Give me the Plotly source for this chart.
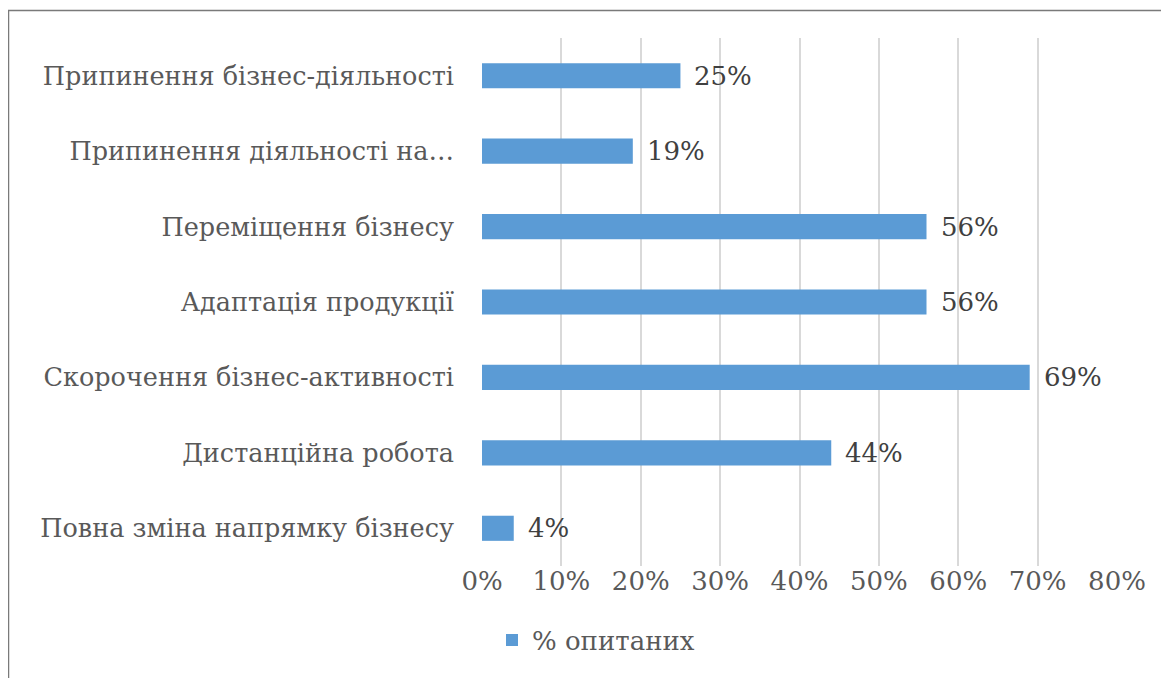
import plotly.graph_objects as go

categories = [
    "Припинення бізнес-діяльності",
    "Припинення діяльності на…",
    "Переміщення бізнесу",
    "Адаптація продукції",
    "Скорочення бізнес-активності",
    "Дистанційна робота",
    "Повна зміна напрямку бізнесу",
]
values = [25, 19, 56, 56, 69, 44, 4]
series_name = "% опитаних"
x_ticks = [0, 10, 20, 30, 40, 50, 60, 70, 80]
x_tick_labels = [f"{t}%" for t in x_ticks]

OFF = 8  # default page body margin
W, H = 1169 - OFF, 678 - OFF
L = 482 - OFF
R = 1169 - 1117
T = 38 - OFF
B = 678 - 566
pw = W - L - R
ph = H - T - B

def px_x(p):
    return (p - OFF - L) / pw

def px_y(p):
    return (H - B - (p - OFF)) / ph

FONT = "DejaVu Serif"
FS = 26
FS_CAT = 25.5

fig = go.Figure()
fig.add_trace(go.Bar(
    x=values, y=categories, orientation="h",
    name=series_name,
    marker=dict(color="#5B9BD5", line=dict(width=0)),
    hoverinfo="skip",
))

for c, v in zip(categories, values):
    fig.add_annotation(
        x=v, y=c, xref="x", yref="y", text=f"{v}%",
        showarrow=False, xanchor="left", yanchor="middle", xshift=12,
        font=dict(family=FONT, size=FS, color="#404040"),
    )

fig.add_shape(
    type="rect", xref="paper", yref="paper",
    x0=px_x(8.5), x1=px_x(1190), y0=px_y(700), y1=px_y(10.5),
    line=dict(color="#7a7a7a", width=1.5), fillcolor="rgba(0,0,0,0)", layer="below",
)

fig.update_layout(
    width=W, height=H,
    margin=dict(l=L, r=R, t=T, b=B, pad=0),
    paper_bgcolor="white", plot_bgcolor="white",
    bargap=0.667,
    font=dict(family=FONT, size=FS, color="#595959"),
    showlegend=True,
    legend=dict(
        orientation="h", x=px_x(492), y=px_y(640), xanchor="left", yanchor="middle",
        font=dict(family=FONT, size=FS, color="#595959"),
        bgcolor="rgba(0,0,0,0)",
    ),
    xaxis=dict(
        range=[0, 80], tickmode="array", tickvals=x_ticks, ticktext=x_tick_labels,
        showgrid=True, gridcolor="#d9d9d9", gridwidth=1.5,
        zeroline=False, showline=False, ticks="", ticklabelstandoff=-3,
        tickfont=dict(family=FONT, size=FS, color="#595959"),
        fixedrange=True,
    ),
    yaxis=dict(
        autorange="reversed", showgrid=False, zeroline=False, showline=False,
        ticks="", ticklabelstandoff=27,
        tickfont=dict(family=FONT, size=FS_CAT, color="#595959"),
        fixedrange=True,
    ),
)

fig.write_html("out.html")
